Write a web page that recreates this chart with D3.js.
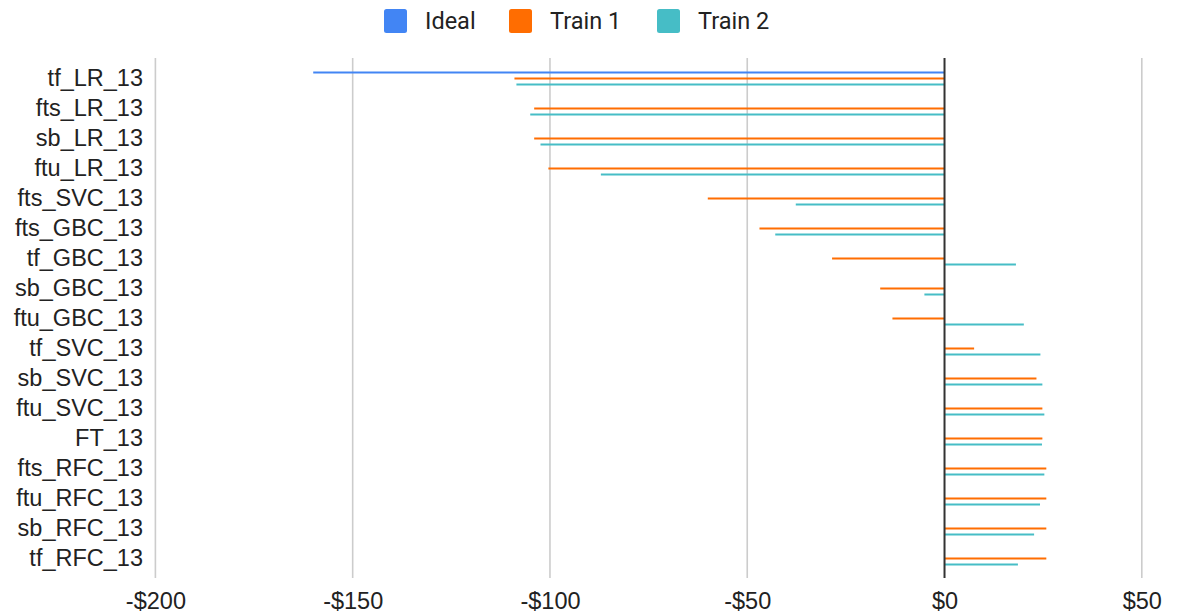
<!DOCTYPE html>
<html>
<head>
<meta charset="utf-8">
<script src="https://cdn.jsdelivr.net/npm/d3@7"></script>
<style>
  html, body { margin: 0; padding: 0; background: #fff; }
  svg { display: block; }
</style>
</head>
<body>
<svg id="chart" width="1179" height="614"></svg>
<script>
// Model names, one row each
const categories = [
  "tf_LR_13", "fts_LR_13", "sb_LR_13", "ftu_LR_13", "fts_SVC_13", "fts_GBC_13",
  "tf_GBC_13", "sb_GBC_13", "ftu_GBC_13", "tf_SVC_13", "sb_SVC_13", "ftu_SVC_13",
  "FT_13", "fts_RFC_13", "ftu_RFC_13", "sb_RFC_13", "tf_RFC_13"
];

// Profit per model, in dollars
const ideal = [-160, null, null, null, null, null, null, null, null, null, null, null, null, null, null, null, null];
const train1 = [-109, -104, -104, -100.4, -60, -46.9, -28.5, -16.3, -13.2, 7.5, 23.3, 24.8, 24.8, 25.8, 25.8, 25.8, 25.8];
const train2 = [-108.5, -105, -102.4, -87.1, -37.7, -42.9, 18.1, -5.1, 20.1, 24.3, 24.8, 25.3, 24.7, 25.3, 24.2, 22.7, 18.6];

const seriesNames = ["Ideal", "Train 1", "Train 2"];
const seriesColors = ["#4285f4", "#ff6d01", "#46bdc6"];
const xTicks = [-200, -150, -100, -50, 0, 50];

const series = [ideal, train1, train2];
const svg = d3.select("#chart");

const x = d3.scaleLinear().domain([-200, 50]).range([155.4, 1141.8]);
const y = d3.scaleBand().domain(categories).range([58.5, 578.5]).paddingInner(0).paddingOuter(1 / 6);
const ySub = d3.scaleBand().domain(seriesNames).range([0, y.bandwidth()]).paddingInner(0).paddingOuter(1);

const fontLabel = "'Liberation Sans', Arial, sans-serif";

// Vertical gridlines
svg.append("g")
  .selectAll("line")
  .data(xTicks.filter(d => d !== 0))
  .join("line")
  .attr("x1", d => x(d)).attr("x2", d => x(d))
  .attr("y1", 58).attr("y2", 578)
  .attr("stroke", "#cccccc")
  .attr("stroke-width", 1.6);

// Bars
const barH = 2;
const groups = svg.append("g")
  .selectAll("g")
  .data(categories)
  .join("g")
  .attr("transform", d => `translate(0,${y(d)})`);

groups.selectAll("rect")
  .data((c, i) => series.map((s, k) => ({ name: seriesNames[k], color: seriesColors[k], v: s[i] })).filter(d => d.v != null))
  .join("rect")
  .attr("x", d => Math.min(x(0), x(d.v)))
  .attr("width", d => Math.abs(x(d.v) - x(0)))
  .attr("y", d => ySub(d.name) + ySub.bandwidth() / 2 - barH / 2)
  .attr("height", barH)
  .attr("fill", d => d.color);

// Zero baseline
svg.append("line")
  .attr("x1", x(0)).attr("x2", x(0))
  .attr("y1", 58).attr("y2", 578)
  .attr("stroke", "#333333")
  .attr("stroke-width", 2);

// Category axis labels
const yAxis = d3.axisLeft(y).tickSize(0).tickPadding(0);
svg.append("g")
  .attr("transform", "translate(143,-1)")
  .call(yAxis)
  .call(g => g.select(".domain").remove())
  .call(g => g.selectAll("text")
    .attr("font-family", fontLabel)
    .attr("font-size", 23.5)
    .attr("fill", "#222222")
    .attr("dy", "0.35em"));

// Dollar axis labels
const fmt = d => (d < 0 ? "-$" : "$") + Math.abs(d);
const xAxis = d3.axisBottom(x).tickValues(xTicks).tickFormat(fmt).tickSize(0).tickPadding(0);
svg.append("g")
  .attr("transform", "translate(0,601)")
  .call(xAxis)
  .call(g => g.select(".domain").remove())
  .call(g => g.selectAll("text")
    .attr("font-family", fontLabel)
    .attr("font-size", 23.5)
    .attr("fill", "#222222")
    .attr("dy", "0.35em"));

// Legend
const legendX = [384, 509, 657];
const legend = svg.append("g")
  .selectAll("g")
  .data(seriesNames)
  .join("g")
  .attr("transform", (d, i) => `translate(${legendX[i]},9)`);

legend.append("rect")
  .attr("width", 23).attr("height", 24)
  .attr("rx", 2.5).attr("ry", 2.5)
  .attr("fill", (d, i) => seriesColors[i]);

legend.append("text")
  .attr("x", 41)
  .attr("y", 12)
  .attr("dy", "0.35em")
  .attr("font-family", "Roboto, sans-serif")
  .attr("font-size", 23.5)
  .attr("fill", "#222222")
  .text(d => d);
</script>
</body>
</html>
